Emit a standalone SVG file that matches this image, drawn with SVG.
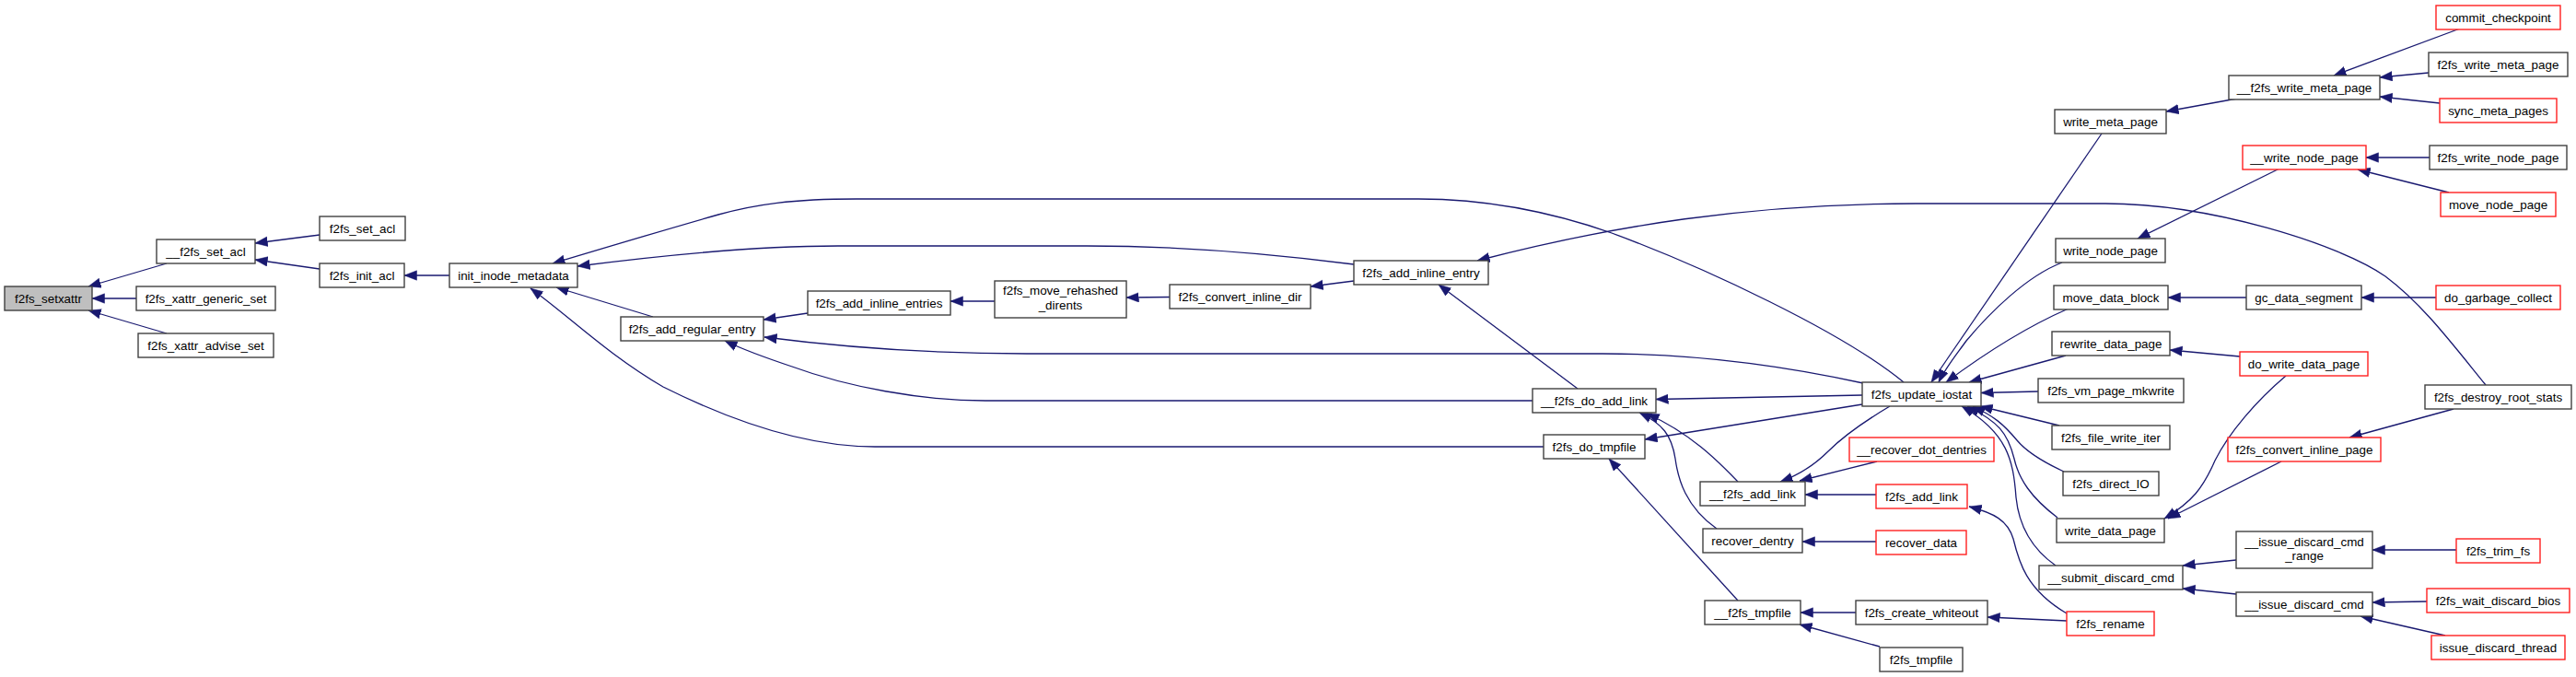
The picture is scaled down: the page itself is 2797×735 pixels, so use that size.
<svg xmlns="http://www.w3.org/2000/svg" width="2797" height="735" viewBox="0 0 2797 735">
<style>
.n rect{fill:#fff;stroke:#404040;stroke-width:1.4}
.n.r rect{stroke:#ff2020}
.n.root rect{fill:#bfbfbf}
text{font-family:"Liberation Sans",Arial,Helvetica,sans-serif;font-size:13.4px;text-anchor:middle;fill:#000}
#edges path{fill:none;stroke:#191970;stroke-width:1.3;marker-end:url(#a)}
</style>
<defs>
<marker id="a" markerWidth="14" markerHeight="12" refX="13.5" refY="5.5" orient="auto" markerUnits="userSpaceOnUse"><path d="M0,0.3 L13.5,5.5 L0,10.7 z" fill="#191970" stroke="#191970" stroke-width="0.5"/></marker>
</defs>
<rect width="2797" height="735" fill="#fff"/>
<g id="edges">
<path d="M181,286 L96,311"/>
<path d="M148,324 L100,324"/>
<path d="M181,362 L96,337"/>
<path d="M347,255 L277,264"/>
<path d="M347,292 L277,282"/>
<path d="M488,299 L439,299"/>
<path d="M2067,415 C2000,360 1850,290 1750,253 C1670,225 1600,216 1540,216 L930,216 C860,216 820,222 780,233 C720,250 660,268 600,286"/>
<path d="M1470,287 C1400,278 1300,267 1180,267 L910,267 C820,267 720,277 627,289"/>
<path d="M709,344 L604,312"/>
<path d="M1676,485 L950,485 C880,485 800,460 720,420 C660,385 620,345 576,313"/>
<path d="M1664,435 L1070,435 C1000,435 920,420 860,398 C830,388 810,381 787,370"/>
<path d="M2023,416 C1950,400 1850,384 1740,384 L1115,384 C1000,384 900,375 830,366"/>
<path d="M877,340 L829,347"/>
<path d="M1080,327 L1032,327"/>
<path d="M1270,322.5 L1223,323"/>
<path d="M1470,305 L1423,311"/>
<path d="M1713,422 L1562,309"/>
<path d="M2699,418 C2660,370 2630,330 2590,300 C2540,265 2400,221 2285,221 L2080,221 C1900,221 1750,245 1604,283"/>
<path d="M2022,429 L1798,433.5"/>
<path d="M1887,523 C1865,500 1835,470 1788,449"/>
<path d="M1864,574 C1830,550 1822,520 1819,498 C1815,472 1805,460 1780,448"/>
<path d="M2022,439 L1786,477"/>
<path d="M1887,652 L1747,498"/>
<path d="M2052,441 C2020,460 2000,475 1985,490 C1970,505 1955,515 1933,523"/>
<path d="M2038,501 L1954,522"/>
<path d="M2037,537 L1960,537"/>
<path d="M2037,588 L1957,588"/>
<path d="M2015,665 L1955,665"/>
<path d="M2041,702 L1954,678"/>
<path d="M2244,674 L2158,670"/>
<path d="M2244,666 C2200,640 2192,610 2186,585 C2180,565 2165,557 2138,550"/>
<path d="M2282,145 L2097,415"/>
<path d="M2239,285 C2200,300 2160,340 2135,370 C2122,388 2112,400 2105,415"/>
<path d="M2246,335 C2200,355 2160,380 2113,415"/>
<path d="M2243,386 L2138,415"/>
<path d="M2213,425 L2151,426.5"/>
<path d="M2236,462 L2150,441"/>
<path d="M2241,512 C2215,500 2200,490 2190,478 C2175,460 2165,452 2142,441"/>
<path d="M2234,562 C2205,540 2192,520 2187,498 C2180,470 2170,458 2136,441"/>
<path d="M2232,614 C2205,595 2192,570 2189,540 C2186,500 2180,470 2130,441"/>
<path d="M2429,107 L2352,121"/>
<path d="M2671,31 L2534,82"/>
<path d="M2637,79 L2584,84"/>
<path d="M2649,112 L2584,105"/>
<path d="M2475,183 L2321,259"/>
<path d="M2638,171 L2569,171"/>
<path d="M2659,209 L2560,184"/>
<path d="M2439,323 L2354,323"/>
<path d="M2645,323 L2564,323"/>
<path d="M2432,387 L2356,380"/>
<path d="M2482,408 C2450,435 2420,470 2405,500 C2392,530 2380,545 2350,563"/>
<path d="M2477,501 L2354,563"/>
<path d="M2664,444 L2551,475"/>
<path d="M2428,608 L2370,614"/>
<path d="M2428,645 L2370,639"/>
<path d="M2667,597 L2576,597"/>
<path d="M2635,653 L2576,654"/>
<path d="M2655,690 L2563,669"/>
</g>
<g id="n1" class="n root"><rect x="5" y="311" width="95" height="26"/><text x="52.5" y="328.5">f2fs_setxattr</text></g>
<g id="n2" class="n"><rect x="170" y="260" width="107" height="26"/><text x="223.5" y="277.5">__f2fs_set_acl</text></g>
<g id="n3" class="n"><rect x="148" y="311" width="151" height="26"/><text x="223.5" y="328.5">f2fs_xattr_generic_set</text></g>
<g id="n4" class="n"><rect x="150" y="362" width="147" height="26"/><text x="223.5" y="379.5">f2fs_xattr_advise_set</text></g>
<g id="n5" class="n"><rect x="347" y="235" width="93" height="26"/><text x="393.5" y="252.5">f2fs_set_acl</text></g>
<g id="n6" class="n"><rect x="347" y="286" width="92" height="26"/><text x="393" y="303.5">f2fs_init_acl</text></g>
<g id="n7" class="n"><rect x="488" y="286" width="139" height="26"/><text x="557.5" y="303.5">init_inode_metadata</text></g>
<g id="n8" class="n"><rect x="674" y="344" width="155" height="26"/><text x="751.5" y="361.5">f2fs_add_regular_entry</text></g>
<g id="n9" class="n"><rect x="877" y="316" width="155" height="26"/><text x="954.5" y="333.5">f2fs_add_inline_entries</text></g>
<g id="n10" class="n"><rect x="1080" y="305" width="143" height="40"/><text x="1151.5" y="319.5">f2fs_move_rehashed</text><text x="1151.5" y="335.5">_dirents</text></g>
<g id="n11" class="n"><rect x="1270" y="309" width="153" height="26"/><text x="1346.5" y="326.5">f2fs_convert_inline_dir</text></g>
<g id="n12" class="n"><rect x="1470" y="283" width="146" height="26"/><text x="1543" y="300.5">f2fs_add_inline_entry</text></g>
<g id="n13" class="n"><rect x="1664" y="422" width="134" height="26"/><text x="1731" y="439.5">__f2fs_do_add_link</text></g>
<g id="n14" class="n"><rect x="1676" y="472" width="110" height="26"/><text x="1731" y="489.5">f2fs_do_tmpfile</text></g>
<g id="n15" class="n"><rect x="1846" y="523" width="114" height="26"/><text x="1903" y="540.5">__f2fs_add_link</text></g>
<g id="n16" class="n"><rect x="1849" y="574" width="108" height="26"/><text x="1903" y="591.5">recover_dentry</text></g>
<g id="n17" class="n"><rect x="1851" y="652" width="104" height="26"/><text x="1903" y="669.5">__f2fs_tmpfile</text></g>
<g id="n18" class="n"><rect x="2022" y="415" width="129" height="26"/><text x="2086.5" y="432.5">f2fs_update_iostat</text></g>
<g id="n19" class="n r"><rect x="2008" y="475" width="157" height="26"/><text x="2086.5" y="492.5">__recover_dot_dentries</text></g>
<g id="n20" class="n r"><rect x="2037" y="526" width="99" height="26"/><text x="2086.5" y="543.5">f2fs_add_link</text></g>
<g id="n21" class="n r"><rect x="2037" y="576" width="98" height="26"/><text x="2086" y="593.5">recover_data</text></g>
<g id="n22" class="n"><rect x="2015" y="652" width="143" height="26"/><text x="2086.5" y="669.5">f2fs_create_whiteout</text></g>
<g id="n23" class="n"><rect x="2041" y="703" width="90" height="26"/><text x="2086" y="720.5">f2fs_tmpfile</text></g>
<g id="n24" class="n"><rect x="2231" y="119" width="121" height="26"/><text x="2291.5" y="136.5">write_meta_page</text></g>
<g id="n25" class="n"><rect x="2232" y="259" width="119" height="26"/><text x="2291.5" y="276.5">write_node_page</text></g>
<g id="n26" class="n"><rect x="2230" y="310" width="124" height="26"/><text x="2292" y="327.5">move_data_block</text></g>
<g id="n27" class="n"><rect x="2228" y="360" width="128" height="26"/><text x="2292" y="377.5">rewrite_data_page</text></g>
<g id="n28" class="n"><rect x="2213" y="411" width="158" height="26"/><text x="2292" y="428.5">f2fs_vm_page_mkwrite</text></g>
<g id="n29" class="n"><rect x="2228" y="462" width="128" height="26"/><text x="2292" y="479.5">f2fs_file_write_iter</text></g>
<g id="n30" class="n"><rect x="2240" y="512" width="104" height="26"/><text x="2292" y="529.5">f2fs_direct_IO</text></g>
<g id="n31" class="n"><rect x="2233" y="563" width="117" height="26"/><text x="2291.5" y="580.5">write_data_page</text></g>
<g id="n32" class="n"><rect x="2214" y="614" width="156" height="26"/><text x="2292" y="631.5">__submit_discard_cmd</text></g>
<g id="n33" class="n r"><rect x="2244" y="664" width="95" height="26"/><text x="2291.5" y="681.5">f2fs_rename</text></g>
<g id="n34" class="n"><rect x="2420" y="82" width="164" height="26"/><text x="2502" y="99.5">__f2fs_write_meta_page</text></g>
<g id="n35" class="n r"><rect x="2435" y="158" width="134" height="26"/><text x="2502" y="175.5">__write_node_page</text></g>
<g id="n36" class="n"><rect x="2439" y="310" width="125" height="26"/><text x="2501.5" y="327.5">gc_data_segment</text></g>
<g id="n37" class="n r"><rect x="2432" y="382" width="139" height="26"/><text x="2501.5" y="399.5">do_write_data_page</text></g>
<g id="n38" class="n r"><rect x="2419" y="475" width="166" height="26"/><text x="2502" y="492.5">f2fs_convert_inline_page</text></g>
<g id="n39" class="n"><rect x="2428" y="577" width="148" height="40"/><text x="2502" y="593">__issue_discard_cmd</text><text x="2502" y="608">_range</text></g>
<g id="n40" class="n"><rect x="2428" y="643" width="148" height="26"/><text x="2502" y="660.5">__issue_discard_cmd</text></g>
<g id="n41" class="n r"><rect x="2645" y="6" width="135" height="26"/><text x="2712.5" y="23.5">commit_checkpoint</text></g>
<g id="n42" class="n"><rect x="2637" y="57" width="151" height="26"/><text x="2712.5" y="74.5">f2fs_write_meta_page</text></g>
<g id="n43" class="n r"><rect x="2649" y="107" width="127" height="26"/><text x="2712.5" y="124.5">sync_meta_pages</text></g>
<g id="n44" class="n"><rect x="2638" y="158" width="149" height="26"/><text x="2712.5" y="175.5">f2fs_write_node_page</text></g>
<g id="n45" class="n r"><rect x="2650" y="209" width="125" height="26"/><text x="2712.5" y="226.5">move_node_page</text></g>
<g id="n46" class="n r"><rect x="2645" y="310" width="135" height="26"/><text x="2712.5" y="327.5">do_garbage_collect</text></g>
<g id="n47" class="n"><rect x="2633" y="418" width="159" height="26"/><text x="2712.5" y="435.5">f2fs_destroy_root_stats</text></g>
<g id="n48" class="n r"><rect x="2667" y="585" width="91" height="26"/><text x="2712.5" y="602.5">f2fs_trim_fs</text></g>
<g id="n49" class="n r"><rect x="2635" y="639" width="155" height="26"/><text x="2712.5" y="656.5">f2fs_wait_discard_bios</text></g>
<g id="n50" class="n r"><rect x="2640" y="690" width="145" height="26"/><text x="2712.5" y="707.5">issue_discard_thread</text></g>
</svg>
